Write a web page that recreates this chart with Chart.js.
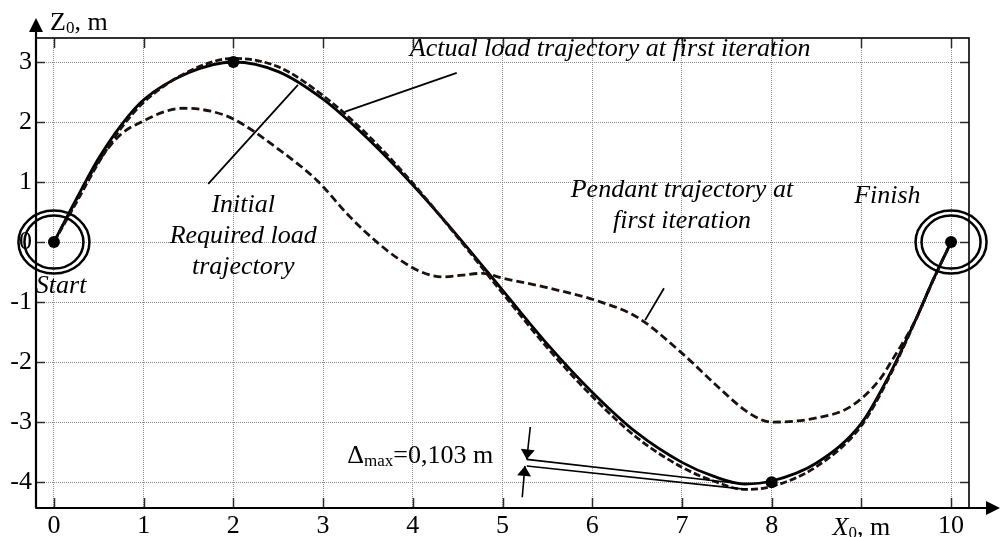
<!DOCTYPE html>
<html>
<head>
<meta charset="utf-8">
<script src="https://cdn.jsdelivr.net/npm/chart.js@4.4.1/dist/chart.umd.min.js"></script>
<style>
  html, body { margin: 0; background: #fff; }
</style>
</head>
<body>
<canvas id="chart" width="1000" height="537"></canvas>
<script>
/* ---- values (metres) ---- */
// required load trajectory (solid)
const reqX = [0, 0.25, 0.5, 0.75, 1, 1.5, 2, 2.5, 3, 3.5, 4, 4.5, 5, 5.5, 6, 6.5, 7, 7.35, 7.7, 8, 8.5, 9, 9.3, 9.6, 9.8, 10];
const reqZ = [0, 0.72, 1.40, 1.95, 2.37, 2.82, 3.0, 2.84, 2.38, 1.72, 0.95, 0.1, -0.8, -1.7, -2.5, -3.18, -3.67, -3.9, -4.03, -3.98, -3.68, -3.02, -2.25, -1.31, -0.63, 0];

// actual load trajectory at first iteration (dashed, close to the required one)
const actX = [0, 0.25, 0.5, 0.75, 1, 1.5, 2, 2.5, 3, 3.5, 4, 4.5, 5, 5.5, 6, 6.5, 7, 7.35, 7.7, 8, 8.5, 9, 9.3, 9.6, 9.8, 10];
const actZ = [0, 0.66, 1.33, 1.9, 2.33, 2.84, 3.06, 2.92, 2.44, 1.78, 0.98, 0.08, -0.85, -1.76, -2.57, -3.26, -3.75, -3.98, -4.12, -4.07, -3.74, -3.06, -2.28, -1.32, -0.64, 0];

// pendant trajectory at first iteration (dashed)
const penX = [0, 0.25, 0.5, 0.75, 1, 1.25, 1.45, 1.75, 2, 2.5, 2.93, 3.3, 3.6, 3.86, 4.1, 4.34, 4.55, 4.78, 5, 5.5, 6.1, 6.5, 7, 7.4, 7.75, 8, 8.5, 8.87, 9.2, 9.35, 9.6, 9.8, 10];
const penZ = [0, 0.7, 1.35, 1.8, 2.02, 2.18, 2.23, 2.18, 2.05, 1.55, 1.03, 0.42, 0.0, -0.3, -0.5, -0.58, -0.55, -0.52, -0.6, -0.76, -1.0, -1.25, -1.85, -2.41, -2.85, -3.0, -2.93, -2.75, -2.3, -1.95, -1.31, -0.63, 0];

// key points of the required trajectory, start / finish
const keyX = [0, 2, 8, 10];
const keyZ = [0, 3, -4, 0];
const endX = [0, 10];
const endZ = [0, 0];

// axes
const xTicks = [0, 1, 2, 3, 4, 5, 6, 7, 8, 9, 10];
const xTickLabels = ['0', '1', '2', '3', '4', '5', '6', '7', '8', '', '10'];
const zTicks = [-4, -3, -2, -1, 0, 1, 2, 3];
const zTickLabels = ['-4', '-3', '-2', '-1', '0', '1', '2', '3'];

// annotations, in data units: [x, z]
const notes = [
  { lines: ['Actual load trajectory at first iteration'], at: [6.2, 3.1] },
  { lines: ['Initial', 'Required load', 'trajectory'], at: [2.11, 0.5] },
  { lines: ['Pendant trajectory at', 'first iteration'], at: [7.0, 0.75] },
  { lines: ['Finish'], at: [9.29, 0.65] },
  { lines: ['Start'], at: [0.08, -0.85] },
];
const leaders = [
  [[4.49, 2.82], [3.24, 2.17]],
  [[1.72, 0.97], [2.72, 2.62]],
  [[6.8, -0.77], [6.59, -1.3]],
];
const deltaLines = [
  [[5.27, -3.62], [7.68, -4.03]],
  [[5.27, -3.73], [7.72, -4.12]],
];
const deltaArrows = [
  [[5.31, -3.08], [5.27, -3.62]],
  [[5.22, -4.25], [5.25, -3.73]],
];
const deltaAt = [3.27, -3.68];

/* ---- helpers ---- */
const serif = '"Liberation Serif", "Times New Roman", serif';
const noteFont = `italic 26px ${serif}`;
const pts = (xs, zs) => xs.map((x, i) => ({ x, y: zs[i] }));

// draws a list of [text, font, dy] pieces on one baseline
function richText(ctx, parts, x, y, align) {
  let w = 0;
  parts.forEach(p => { ctx.font = p[1]; w += ctx.measureText(p[0]).width; });
  let cx = align === 'center' ? x - w / 2 : align === 'right' ? x - w : x;
  ctx.textAlign = 'left';
  ctx.textBaseline = 'alphabetic';
  parts.forEach(p => {
    ctx.font = p[1];
    ctx.fillText(p[0], cx, y + (p[2] || 0));
    cx += ctx.measureText(p[0]).width;
  });
}

function arrowHead(ctx, x0, y0, x1, y1, len, half) {
  const a = Math.atan2(y1 - y0, x1 - x0);
  ctx.beginPath();
  ctx.moveTo(x1, y1);
  ctx.lineTo(x1 - len * Math.cos(a) + half * Math.sin(a), y1 - len * Math.sin(a) - half * Math.cos(a));
  ctx.lineTo(x1 - len * Math.cos(a) - half * Math.sin(a), y1 - len * Math.sin(a) + half * Math.cos(a));
  ctx.closePath();
  ctx.fill();
}

/* ---- frame, inward ticks, axis arrows, rings and notes ---- */
const decor = {
  id: 'decor',
  afterDatasetsDraw(chart) {
    const { ctx, chartArea: a, scales } = chart;
    const px = v => scales.x.getPixelForValue(v);
    const py = v => scales.y.getPixelForValue(v);
    const seg = (x0, y0, x1, y1) => { ctx.beginPath(); ctx.moveTo(x0, y0); ctx.lineTo(x1, y1); ctx.stroke(); };

    ctx.save();
    ctx.lineCap = 'butt';

    // inward ticks on all four sides
    ctx.strokeStyle = '#2b2b2b';
    ctx.lineWidth = 1.5;
    xTicks.forEach(v => {
      const X = Math.round(px(v)) + 0.5;
      seg(X, a.bottom, X, a.bottom - 10);
      seg(X, a.top, X, a.top + 10);
    });
    zTicks.forEach(v => {
      const Y = Math.round(py(v)) + 0.5;
      seg(a.left, Y, a.left + 9, Y);
      seg(a.right, Y, a.right - 9, Y);
    });

    // frame
    ctx.strokeStyle = '#000';
    ctx.lineWidth = 1.6;
    ctx.strokeRect(a.left, a.top, a.right - a.left, a.bottom - a.top);
    ctx.lineWidth = 2.2;
    seg(a.left, a.bottom, a.left, a.top - 6);
    seg(a.left, a.bottom, a.right + 18, a.bottom);

    // axis arrows
    ctx.fillStyle = '#000';
    arrowHead(ctx, a.left, a.top, a.left, a.top - 20, 14, 7);
    arrowHead(ctx, a.right, a.bottom, a.right + 31, a.bottom, 14, 7);

    // axis titles
    ctx.fillStyle = '#000';
    richText(ctx, [['Z', `26px ${serif}`], ['0', `17px ${serif}`, 3], [', m', `26px ${serif}`]],
      a.left + 14, a.top - 8, 'left');
    richText(ctx, [['X', `italic 26px ${serif}`], ['0', `17px ${serif}`, 3], [', m', `26px ${serif}`]],
      px(9), a.bottom + 27, 'center');

    // double rings round start and finish
    ctx.strokeStyle = '#000';
    ctx.lineWidth = 2.5;
    endX.forEach((x, i) => {
      const cx = px(x), cy = py(endZ[i]);
      ctx.beginPath(); ctx.ellipse(cx, cy, 35.5, 31.5, 0, 0, Math.PI * 2); ctx.stroke();
      ctx.beginPath(); ctx.ellipse(cx, cy, 29.5, 26.5, 0, 0, Math.PI * 2); ctx.stroke();
    });

    // leader lines
    ctx.lineWidth = 1.8;
    leaders.forEach(l => seg(px(l[0][0]), py(l[0][1]), px(l[1][0]), py(l[1][1])));

    // delta max marker
    ctx.lineWidth = 1.6;
    deltaLines.forEach(l => seg(px(l[0][0]), py(l[0][1]), px(l[1][0]), py(l[1][1])));
    deltaArrows.forEach(l => {
      const x0 = px(l[0][0]), y0 = py(l[0][1]), x1 = px(l[1][0]), y1 = py(l[1][1]);
      seg(x0, y0, x1, y1);
      arrowHead(ctx, x0, y0, x1, y1, 10, 7);
    });
    richText(ctx, [['Δ', `26px ${serif}`], ['max', `17px ${serif}`, 3], ['=0,103 m', `26px ${serif}`]],
      px(deltaAt[0]), py(deltaAt[1]), 'left');

    // italic notes
    notes.forEach(n => {
      n.lines.forEach((t, i) => {
        richText(ctx, [[t, noteFont]], px(n.at[0]), py(n.at[1]) + i * 31, 'center');
      });
    });

    ctx.restore();
  }
};

const tickFont = { family: serif, size: 26 };

new Chart(document.getElementById('chart'), {
  type: 'scatter',
  data: {
    datasets: [
      {
        label: 'Key points',
        data: pts(keyX, keyZ),
        showLine: false,
        pointRadius: 6,
        pointBackgroundColor: '#000',
        pointBorderWidth: 0,
        order: 0,
      },
      {
        label: 'Required load trajectory',
        data: pts(reqX, reqZ),
        showLine: true,
        borderColor: '#000',
        borderWidth: 2.8,
        pointRadius: 0,
        cubicInterpolationMode: 'monotone',
        order: 2,
      },
      {
        label: 'Actual load trajectory at first iteration',
        data: pts(actX, actZ),
        showLine: true,
        borderColor: '#1c1010',
        borderWidth: 2.8,
        borderDash: [7, 3],
        pointRadius: 0,
        cubicInterpolationMode: 'monotone',
        order: 1,
      },
      {
        label: 'Pendant trajectory at first iteration',
        data: pts(penX, penZ),
        showLine: true,
        borderColor: '#1c1010',
        borderWidth: 2.8,
        borderDash: [8, 4],
        pointRadius: 0,
        cubicInterpolationMode: 'monotone',
        order: 3,
      },
    ],
  },
  options: {
    responsive: false,
    animation: false,
    events: [],
    layout: { padding: { top: 38, right: 31, left: 0, bottom: 0 } },
    plugins: { legend: { display: false }, tooltip: { enabled: false } },
    scales: {
      x: {
        type: 'linear',
        min: -0.2,
        max: 10.2,
        afterBuildTicks: s => { s.ticks = xTicks.map(v => ({ value: v })); },
        afterFit: s => { s.height = 29; },
        grid: { color: '#8e8e8e', lineWidth: 1, drawTicks: false },
        border: { display: false, dash: [1, 1] },
        ticks: {
          callback: (v, i) => xTickLabels[i],
          font: tickFont,
          color: '#000',
          padding: 3,
          maxRotation: 0,
          autoSkip: false,
        },
      },
      y: {
        type: 'linear',
        min: -4.43,
        max: 3.4,
        afterBuildTicks: s => { s.ticks = zTicks.map(v => ({ value: v })); },
        afterFit: s => { s.width = 36; },
        grid: { color: '#8e8e8e', lineWidth: 1, drawTicks: false },
        border: { display: false, dash: [1, 1] },
        ticks: {
          callback: (v, i) => zTickLabels[i],
          font: tickFont,
          color: '#000',
          padding: 4,
          autoSkip: false,
        },
      },
    },
  },
  plugins: [decor],
});
</script>
</body>
</html>
